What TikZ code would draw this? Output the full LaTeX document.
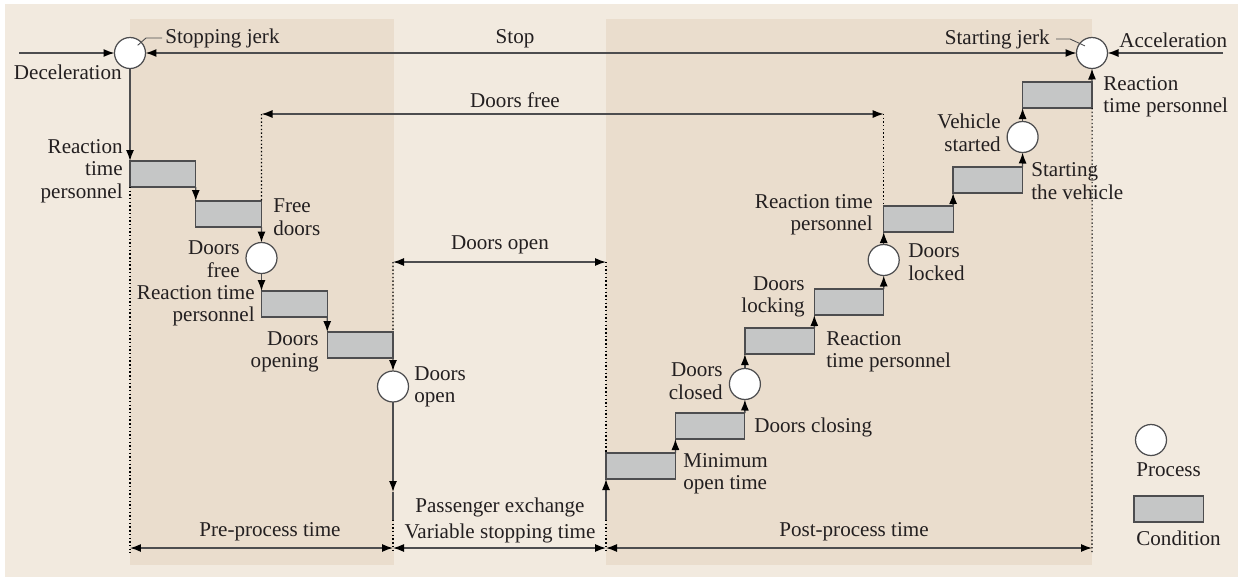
\documentclass[tikz,border=0pt]{standalone}
\usepackage{fontspec}
\setmainfont{Liberation Serif}
\usetikzlibrary{arrows.meta,calc}

\definecolor{bgout}{HTML}{F2EADF}
\definecolor{panel}{HTML}{EADDCD}
\definecolor{boxfill}{HTML}{C5C6C6}
\definecolor{edge}{HTML}{4D4D4F}
\definecolor{ink}{HTML}{231F20}

\tikzset{
    tip/.tip={Latex[length=2.2mm,width=1.6mm,color=black]},
    proc/.style={circle, draw=edge, fill=white, line width=0.7pt, minimum size=0.62cm, inner sep=0pt, outer sep=0pt},
    cond/.style={rectangle, draw=edge, fill=boxfill, line width=0.7pt, minimum width=1.315cm, minimum height=0.52cm, inner sep=0pt, outer sep=0pt},
    rcond/.style={cond, minimum width=1.389cm},
    lbl/.style={inner sep=0pt, text=ink},
    flow/.style={draw=edge, line width=0.75pt, -tip},
    dimline/.style={draw=edge, line width=0.75pt, tip-tip},
    ext/.style={draw=black, line width=0.6pt, dash pattern=on 0.8pt off 1.3pt},
}

\begin{document}
\begin{tikzpicture}[x=0.02cm, y=-0.02cm, font=\fontsize{12}{12.8}\selectfont]
    \useasboundingbox (0,0) rectangle (1244,579);
    \fill[bgout] (5,4) rectangle (1238,577);
    \fill[panel] (130,19) rectangle (394,565);
    \fill[panel] (606,19) rectangle (1092,565);

    % processes
    \node[proc] (cs) at (130,53) {};
    \node[proc] (sj) at (1092,53) {};
    \node[proc] (dfr) at (261.5,258) {};
    \node[proc] (dop) at (393,386.5) {};
    \node[proc] (dcl) at (744.9,384) {};
    \node[proc] (dlk) at (883.7,260) {};
    \node[proc] (vst) at (1022.6,137) {};

    % conditions, going down
    \node[cond, anchor=north west] (b1) at (130,161) {};
    \node[cond, anchor=north west] (b2) at (195.75,201) {};
    \node[cond, anchor=north west] (b3) at (261.5,291) {};
    \node[cond, anchor=north west] (b4) at (327.25,332) {};

    % conditions, going up
    \node[rcond, anchor=south west] (r1) at (606,479) {};
    \node[rcond, anchor=south west] (r2) at (675.4,439) {};
    \node[rcond, anchor=south west] (r3) at (744.9,354) {};
    \node[rcond, anchor=south west] (r4) at (814.3,315) {};
    \node[rcond, anchor=south west] (r5) at (883.7,232) {};
    \node[rcond, anchor=south west] (r6) at (953.1,193) {};
    \node[rcond, anchor=south west] (r7) at (1022.6,108) {};

    % legend
    \node[proc] (kp) at (1151,440) {};
    \node[rcond, anchor=north west] (kc) at (1134,496) {};
    \node[lbl, anchor=west] (lkp) at (1136,470) {Process};
    \node[lbl, anchor=west] (lkc) at (1136,538) {Condition};

    % free ends
    \coordinate (din) at (19,53);
    \coordinate (ain) at (1223,53);
    \coordinate (pa) at (393,492);
    \coordinate (pe) at (393,520);
    \coordinate (ps) at (606,520);
    \coordinate (f0) at (261.5,114);
    \coordinate (f1) at (883.7,114);
    \coordinate (o0) at (393,262);
    \coordinate (o1) at (606,262);
    \coordinate (d0) at (130,548);
    \coordinate (d1) at (393,548);
    \coordinate (d2) at (606,548);
    \coordinate (d3) at (1092,548);

    % labels
    \node[lbl] (lstop) at (515,39) {Stop};
    \node[lbl, anchor=west] (lsjk) at (165,38) {Stopping jerk};
    \node[lbl, anchor=east] (lstj) at (1050,39) {Starting jerk};
    \node[lbl, anchor=east] (ldec) at (122,72) {Deceleration};
    \node[lbl, anchor=west] (lacc) at (1119,40) {Acceleration};
    \node[lbl] (ldfree) at (515,100) {Doors free};
    \node[lbl] (ldopen) at (500,245) {Doors open};
    \node[lbl, anchor=east, align=right] (lb1) at (123,171) {Reaction\\time\\personnel};
    \node[lbl, anchor=west, align=left] (lb2) at (273,217) {Free\\doors};
    \node[lbl, anchor=east, align=right] (ldfr) at (240,259) {Doors\\free};
    \node[lbl, anchor=east, align=right] (lb3) at (255,306) {Reaction time\\personnel};
    \node[lbl, anchor=east, align=right] (lb4) at (319,352) {Doors\\opening};
    \node[lbl, anchor=west, align=left] (ldop) at (414,387) {Doors\\open};
    \node[lbl] (lpx1) at (500,507) {Passenger exchange};
    \node[lbl] (lpx2) at (500,533) {Variable stopping time};
    \node[lbl] (lpre) at (270,532) {Pre-process time};
    \node[lbl] (lpost) at (854,532) {Post-process time};
    \node[lbl, anchor=west, align=left] (lr1) at (683,474) {Minimum\\open time};
    \node[lbl, anchor=west] (lr2) at (754,427) {Doors closing};
    \node[lbl, anchor=east, align=right] (ldcl) at (723,381) {Doors\\closed};
    \node[lbl, anchor=west, align=left] (lr3) at (826,352) {Reaction\\time personnel};
    \node[lbl, anchor=east, align=right] (lr4) at (805,297) {Doors\\locking};
    \node[lbl, anchor=west, align=left] (ldlk) at (908,262) {Doors\\locked};
    \node[lbl, anchor=east, align=right] (lr5) at (873,215) {Reaction time\\personnel};
    \node[lbl, anchor=west, align=left] (lr6) at (1031,181) {Starting\\the vehicle};
    \node[lbl, anchor=east, align=right] (lvst) at (1001,133) {Vehicle\\started};
    \node[lbl, anchor=west, align=left] (lr7) at (1103,97) {Reaction\\time personnel};

    % top line
    \draw[flow] (din) -- (cs.west);
    \draw[dimline] (cs.east) -- (sj.west);
    \draw[flow] (ain) -- (sj.east);
    \draw[draw=edge, line width=0.5pt] (lsjk.west) ++(-3,0) -- ++(-16,0) -- ($(cs.center)!0.7!(cs.north east)$);
    \draw[draw=edge, line width=0.5pt] (lstj.east) ++(6,0) -- ++(14,0) -- ($(sj.center)!0.65!(sj.north west)$);

    % going down
    \draw[flow] (cs.south) -- (b1.north west);
    \draw[flow] (b1.south east) -- (b2.north west);
    \draw[flow] (b2.south east) -- (dfr.north);
    \draw[flow] (dfr.south) -- (b3.north west);
    \draw[flow] (b3.south east) -- (b4.north west);
    \draw[flow] (b4.south east) -- (dop.north);
    \draw[flow] (dop.south) -- (pa);
    \draw[draw=edge, line width=0.75pt] (pa) -- (pe);

    % going up
    \draw[flow] (ps) -- (r1.south west);
    \draw[flow] (r1.north east) -- (r2.south west);
    \draw[flow] (r2.north east) -- (dcl.south);
    \draw[flow] (dcl.north) -- (r3.south west);
    \draw[flow] (r3.north east) -- (r4.south west);
    \draw[flow] (r4.north east) -- (dlk.south);
    \draw[flow] (dlk.north) -- (r5.south west);
    \draw[flow] (r5.north east) -- (r6.south west);
    \draw[flow] (r6.north east) -- (vst.south);
    \draw[flow] (vst.north) -- (r7.south west);
    \draw[flow] (r7.north east) -- (sj.south);

    % extension lines
    \draw[ext] (b1.south west) -- ($(d0)+(0,5)$);
    \draw[ext] (f0) -- (b2.north east);
    \draw[ext] (f1) -- (r5.north west);
    \draw[ext] (o0) -- (b4.north east);
    \draw[ext] (o1) -- (r1.north west);
    \draw[ext] (pe) -- ($(d1)+(0,5)$);
    \draw[ext] (ps) -- ($(d2)+(0,5)$);
    \draw[ext] (r7.south east) -- ($(d3)+(0,5)$);

    % dimensions
    \draw[dimline] (f0) -- (f1);
    \draw[dimline] (o0) -- (o1);
    \draw[dimline] (d0) -- (d1);
    \draw[dimline] (d1) -- (d2);
    \draw[dimline] (d2) -- (d3);
\end{tikzpicture}
\end{document}
